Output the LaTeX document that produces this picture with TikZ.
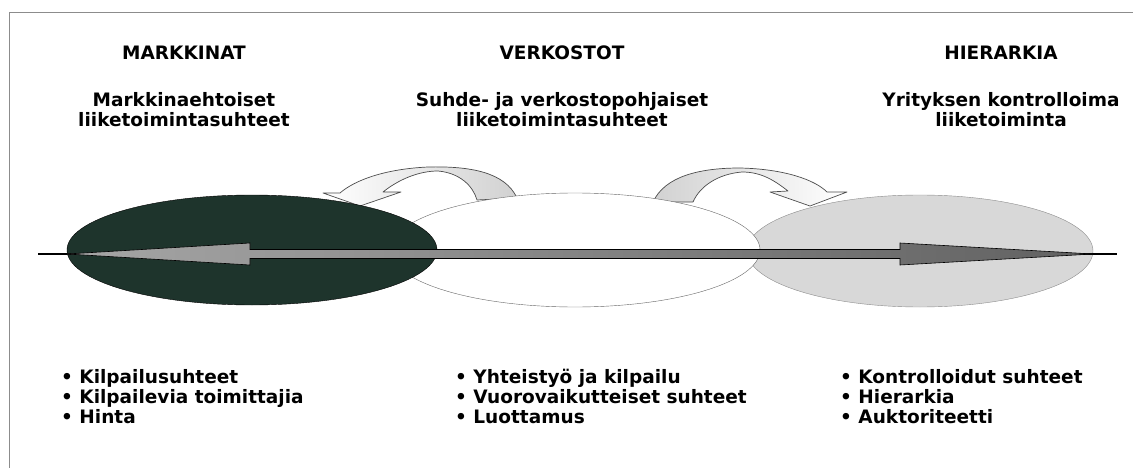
\documentclass[tikz,border=0pt]{standalone}
\usepackage{fontspec}
\setmainfont{DejaVu Sans}
\usetikzlibrary{shapes.geometric}
\definecolor{darkoval}{RGB}{30,52,44}
\definecolor{lightoval}{RGB}{216,216,216}
\begin{document}
\begin{tikzpicture}[x=1pt,y=-1pt,
  txt/.style={font=\fontsize{18.5}{20}\selectfont\bfseries, inner sep=0, anchor=base},
  item/.style={txt, anchor=base west},
  oval/.style={ellipse, inner sep=0},
  bendarrow/.style={draw=black!70, line width=0.7pt, line join=round}]
\useasboundingbox (0,0) rectangle (1133,468);
% frame
\draw[black!45, line width=0.8pt] (9,468) -- (9,12) -- (1133,12);
% curved arrows (behind ovals)
\path[bendarrow, left color=white, right color=black!18]
  (517,198) .. controls (505,172) and (470,166) .. (428,167)
  .. controls (385,169) and (355,180) .. (340,193) -- (323,193) -- (360,206) -- (401,192) -- (383,192)
  .. controls (398,180) and (418,171) .. (438,171)
  .. controls (460,173) and (473,186) .. (477,200) -- cycle;
\path[bendarrow, left color=black!18, right color=white]
  (653,202) .. controls (665,176) and (700,168) .. (740,168)
  .. controls (785,169) and (815,180) .. (827,192) -- (847,192) -- (810,206) -- (770,192) -- (788,191)
  .. controls (775,181) and (762,172) .. (742,172)
  .. controls (718,174) and (700,186) .. (693,202) -- cycle;
% ovals
\node[oval, draw=black!45, fill=lightoval, minimum width=346, minimum height=112] (hier) at (920,251) {};
\node[oval, draw=black!60, fill=white, minimum width=370, minimum height=114] (verk) at (575,250) {};
\node[oval, draw=black, fill=darkoval, minimum width=370, minimum height=110] (mark) at (252,250) {};
% axis
\coordinate (axl) at (38,254);
\coordinate (axr) at (1117,254);
\draw[line width=1.2pt] (axl) -- (axr);
\path[draw=black, line width=0.6pt, line join=miter, left color=black!35, right color=black!62]
  (67,254) -- (250,243) -- (250,249.5) -- (900,249.5) -- (900,243) -- (1093,254)
  -- (900,265) -- (900,258.5) -- (250,258.5) -- (250,265) -- cycle;
% headings
\node[txt] (h1) at (184,60) {MARKKINAT};
\node[txt] (h2) at (562,60) {VERKOSTOT};
\node[txt] (h3) at (1001,60) {HIERARKIA};
\node[txt] (s1a) at (184,107) {Markkinaehtoiset};
\node[txt] (s1b) at (184,127) {liiketoimintasuhteet};
\node[txt] (s2a) at (562,107) {Suhde- ja verkostopohjaiset};
\node[txt] (s2b) at (562,127) {liiketoimintasuhteet};
\node[txt] (s3a) at (1001,107) {Yrityksen kontrolloima};
\node[txt] (s3b) at (1001,127) {liiketoiminta};
% lists
\node[item] (l1a) at (61,383) {• Kilpailusuhteet};
\node[item] (l1b) at (61,403) {• Kilpailevia toimittajia};
\node[item] (l1c) at (61,423) {• Hinta};
\node[item] (l2a) at (455,383) {• Yhteistyö ja kilpailu};
\node[item] (l2b) at (455,403) {• Vuorovaikutteiset suhteet};
\node[item] (l2c) at (455,423) {• Luottamus};
\node[item] (l3a) at (840,383) {• Kontrolloidut suhteet};
\node[item] (l3b) at (840,403) {• Hierarkia};
\node[item] (l3c) at (840,423) {• Auktoriteetti};
\end{tikzpicture}
\end{document}
